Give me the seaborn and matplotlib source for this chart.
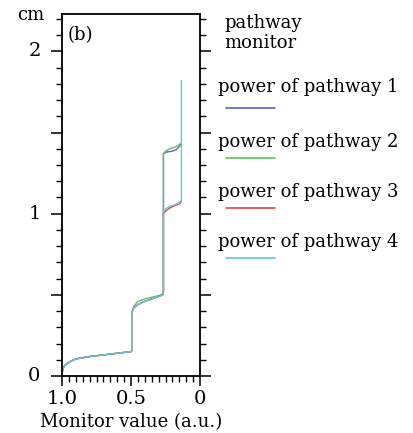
import numpy as np
import pandas as pd
import matplotlib
matplotlib.use("Agg")
import matplotlib.pyplot as plt
import seaborn as sns
from matplotlib.ticker import MultipleLocator, FixedLocator
from matplotlib.lines import Line2D

sns.set_theme(style="white")
plt.rcParams['font.family'] = ['DejaVu Serif']
plt.rcParams['text.color'] = 'black'
plt.rcParams['xtick.color'] = 'black'
plt.rcParams['ytick.color'] = 'black'

# ---- data ----
p4_x = [1.0, 0.997, 0.99, 0.98, 0.95, 0.9, 0.8, 0.7, 0.6, 0.5, 0.495, 0.495, 0.48, 0.45, 0.4, 0.35, 0.3, 0.27, 0.265, 0.265, 0.25, 0.22, 0.18, 0.15, 0.135, 0.135]
p4_y = [0.0, 0.03, 0.05, 0.065, 0.085, 0.105, 0.12, 0.13, 0.14, 0.15, 0.155, 0.39, 0.42, 0.44, 0.46, 0.475, 0.49, 0.5, 0.52, 1.01, 1.03, 1.045, 1.055, 1.07, 1.08, 1.82]

p3_x = [1.0, 0.997, 0.99, 0.98, 0.95, 0.9, 0.8, 0.7, 0.6, 0.5, 0.495, 0.495, 0.48, 0.45, 0.4, 0.35, 0.3, 0.27, 0.265, 0.265, 0.25, 0.22, 0.18, 0.15, 0.135]
p3_y = [0.0, 0.03, 0.05, 0.065, 0.085, 0.105, 0.12, 0.13, 0.14, 0.15, 0.155, 0.39, 0.42, 0.44, 0.46, 0.475, 0.49, 0.5, 0.52, 1.0, 1.015, 1.035, 1.05, 1.06, 1.075]

p2_x = [1.0, 0.997, 0.99, 0.98, 0.95, 0.9, 0.8, 0.7, 0.6, 0.5, 0.495, 0.495, 0.48, 0.45, 0.4, 0.35, 0.3, 0.27, 0.265, 0.265, 0.25, 0.22, 0.18, 0.15, 0.135]
p2_y = [0.0, 0.03, 0.05, 0.065, 0.085, 0.105, 0.12, 0.13, 0.14, 0.15, 0.155, 0.38, 0.43, 0.46, 0.475, 0.485, 0.495, 0.505, 0.52, 1.37, 1.385, 1.40, 1.41, 1.425, 1.435]

p1_x = [1.0, 0.997, 0.99, 0.98, 0.95, 0.9, 0.8, 0.7, 0.6, 0.5, 0.495, 0.495, 0.48, 0.45, 0.4, 0.35, 0.3, 0.27, 0.265, 0.265, 0.24, 0.2, 0.17, 0.15, 0.135]
p1_y = [0.0, 0.03, 0.05, 0.065, 0.085, 0.105, 0.12, 0.13, 0.14, 0.15, 0.155, 0.39, 0.42, 0.44, 0.46, 0.475, 0.49, 0.5, 0.52, 1.37, 1.38, 1.385, 1.395, 1.415, 1.43]

labels = ["power of pathway 1", "power of pathway 2", "power of pathway 3", "power of pathway 4"]
colors = ["#5a64c4", "#5cc25c", "#e2473c", "#62c8e2"]

frames = []
for lab, xs, ys in zip(labels, [p1_x, p2_x, p3_x, p4_x], [p1_y, p2_y, p3_y, p4_y]):
    frames.append(pd.DataFrame({"monitor": xs, "cm": ys, "series": lab, "order": range(len(xs))}))
df = pd.concat(frames, ignore_index=True)

W, H = 413, 433
fig = plt.figure(figsize=(W / 100, H / 100), dpi=100)
ax = fig.add_axes([62 / W, (H - 376) / H, (200 - 62) / W, (376 - 14) / H])

sns.lineplot(data=df, x="monitor", y="cm", hue="series", hue_order=labels,
             palette=colors, sort=False, estimator=None, units="series",
             linewidth=1.0, legend=False, ax=ax)

ax.set_xlim(1.0, 0.0)
ax.set_ylim(0, 2.23)
ax.set_xlabel("")
ax.set_ylabel("")

for s in ax.spines.values():
    s.set_linewidth(1.3)
    s.set_color("black")

ax.xaxis.set_major_locator(FixedLocator([1.0, 0.5, 0.0]))
ax.set_xticklabels(["1.0", "0.5", "0"])
ax.xaxis.set_minor_locator(MultipleLocator(0.05))
ax.yaxis.set_major_locator(MultipleLocator(0.5))
ax.set_yticklabels([])
ax.yaxis.set_minor_locator(MultipleLocator(0.1))
ax.tick_params(axis="x", which="major", direction="out", length=7, width=1.1, bottom=True, top=False, labelsize=14, pad=3, colors="black")
ax.tick_params(axis="x", which="minor", direction="out", length=4, width=1.0, bottom=True, top=False)
ax.tick_params(axis="y", which="major", direction="out", length=8, width=1.1, left=True, right=True, labelleft=False)
ax.tick_params(axis="y", which="minor", direction="out", length=4, width=1.0, left=True, right=True)

for v in [0, 1, 2]:
    ax.text(-0.20, v, str(v), transform=ax.get_yaxis_transform(), ha="center", va="center", fontsize=14, color="black")

fs = 13
fig.text(31 / W, 1 - 15 / H, "cm", ha="center", va="center", fontsize=fs, color="black")
fig.text(68 / W, 1 - 35 / H, "(b)", ha="left", va="center", fontsize=fs, color="black")
fig.text(131 / W, 1 - 422 / H, "Monitor value (a.u.)", ha="center", va="center", fontsize=fs, color="black")

fig.text(224 / W, 1 - 23 / H, "pathway", ha="left", va="center", fontsize=fs, color="black")
fig.text(224 / W, 1 - 43 / H, "monitor", ha="left", va="center", fontsize=fs, color="black")
text_y = [87, 142, 192, 242]
line_y = [108, 158, 208, 258]
for lab, c, ty, ly in zip(labels, colors, text_y, line_y):
    fig.text(218 / W, 1 - ty / H, lab, ha="left", va="center", fontsize=fs, color="black")
    fig.add_artist(Line2D([226 / W, 275 / W], [1 - ly / H, 1 - ly / H], color=c, linewidth=1.2, transform=fig.transFigure))

fig.savefig("out.png", dpi=100)
